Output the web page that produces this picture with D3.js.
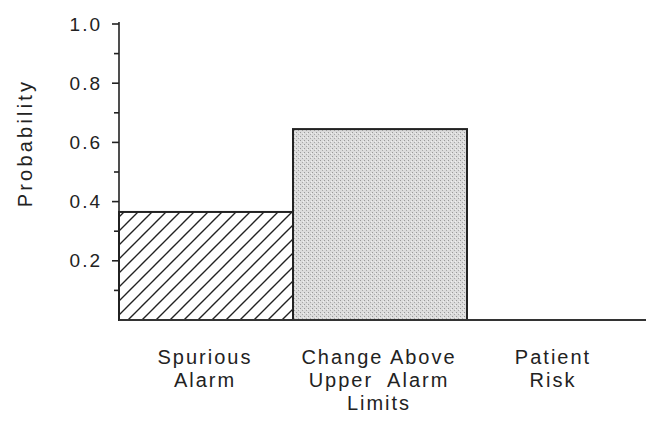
<!DOCTYPE html>
<html>
  <head>
    <meta charset="utf-8">
    <script src="https://d3js.org/d3.v7.min.js"></script>
    <style>
      body { margin: 0px; background: #fff; }
      text {
        font-family: "Liberation Sans", Arial, sans-serif;
        fill: #222;
      }
      .tick-label { font-size: 19px; letter-spacing: 2px; }
      .cat-label { font-size: 20px; letter-spacing: 2px; }
      .axis-label { font-size: 20px; letter-spacing: 3.2px; }
    </style>
  </head>
  <body>
    <svg width="646" height="425"></svg>
    <script>
      const categories = ['Spurious Alarm', 'Change Above Upper Alarm Limits', 'Patient Risk'];
      const catLines = [['Spurious', 'Alarm'], ['Change Above', 'Upper  Alarm', 'Limits'], ['Patient', 'Risk']];
      const values = [0.365, 0.645, 0.0];
      const majorTicks = [0.2, 0.4, 0.6, 0.8, 1.0];
      const tickLabels = ['0.2', '0.4', '0.6', '0.8', '1.0'];
      const minorTicks = [0.1, 0.3, 0.5, 0.7, 0.9];

      const svg = d3.select('svg');
      const plotLeft = 119, plotRight = 641, plotTop = 24, plotBottom = 320;

      const x = d3.scaleBand().domain(categories).range([plotLeft, plotRight]).padding(0);
      const y = d3.scaleLinear().domain([0, 1]).range([plotBottom, plotTop]);

      const defs = svg.append('defs');
      const hatch = defs.append('pattern')
          .attr('id', 'hatch')
          .attr('patternUnits', 'userSpaceOnUse')
          .attr('width', 14).attr('height', 14);
      hatch.append('rect').attr('width', 14).attr('height', 14).attr('fill', '#fff');
      hatch.append('path')
          .attr('d', 'M-1,15 L15,-1 M-8,8 L8,-8 M6,22 L22,6')
          .attr('stroke', '#222').attr('stroke-width', 1.4);

      const dots = defs.append('pattern')
          .attr('id', 'dots')
          .attr('patternUnits', 'userSpaceOnUse')
          .attr('width', 4).attr('height', 4);
      dots.append('rect').attr('width', 4).attr('height', 4).attr('fill', '#dcdcdc');
      dots.append('rect').attr('x', 0).attr('y', 0).attr('width', 1).attr('height', 1).attr('fill', '#999');
      dots.append('rect').attr('x', 2).attr('y', 2).attr('width', 1).attr('height', 1).attr('fill', '#a8a8a8');
      dots.append('rect').attr('x', 3).attr('y', 1).attr('width', 1).attr('height', 1).attr('fill', '#f0f0f0');

      const fills = ['url(#hatch)', 'url(#dots)', '#fff'];

      svg.selectAll('rect.bar').data(categories)
        .enter().append('rect')
          .attr('class', 'bar')
          .attr('x', d => x(d))
          .attr('y', (d, i) => y(values[i]))
          .attr('width', x.bandwidth())
          .attr('height', (d, i) => y(0) - y(values[i]))
          .attr('fill', (d, i) => fills[i])
          .attr('stroke', '#222')
          .attr('stroke-width', 2);

      // baseline
      svg.append('line')
          .attr('x1', plotLeft).attr('x2', 646)
          .attr('y1', y(0)).attr('y2', y(0))
          .attr('stroke', '#333').attr('stroke-width', 2);

      // y axis
      const yAxisG = svg.append('g').attr('transform', `translate(${plotLeft},0)`);
      yAxisG.append('line')
          .attr('y1', y(1) - 2).attr('y2', y(0))
          .attr('stroke', '#222').attr('stroke-width', 1.6);
      yAxisG.selectAll('line.major').data(majorTicks)
        .enter().append('line')
          .attr('class', 'major')
          .attr('x1', -7).attr('x2', 0)
          .attr('y1', d => y(d)).attr('y2', d => y(d))
          .attr('stroke', '#222').attr('stroke-width', 1.6);
      yAxisG.selectAll('line.minor').data(minorTicks)
        .enter().append('line')
          .attr('class', 'minor')
          .attr('x1', -5).attr('x2', 0)
          .attr('y1', d => y(d)).attr('y2', d => y(d))
          .attr('stroke', '#222').attr('stroke-width', 1.6);
      yAxisG.selectAll('text').data(majorTicks)
        .enter().append('text')
          .attr('class', 'tick-label')
          .attr('x', -17)
          .attr('y', d => y(d))
          .attr('dy', '0.35em')
          .attr('text-anchor', 'end')
          .text((d, i) => tickLabels[i]);

      svg.append('text')
          .attr('class', 'axis-label')
          .attr('transform', `translate(32,${143}) rotate(-90)`)
          .attr('text-anchor', 'middle')
          .text('Probability');

      // category labels
      const catG = svg.selectAll('text.cat').data(categories)
        .enter().append('text')
          .attr('class', 'cat-label')
          .attr('text-anchor', 'middle')
          .attr('x', d => x(d) + x.bandwidth() / 2 - 1)
          .attr('y', 364);
      catG.selectAll('tspan').data((d, i) => catLines[i])
        .enter().append('tspan')
          .attr('x', function() { return d3.select(this.parentNode).attr('x'); })
          .attr('dy', (d, i) => i === 0 ? 0 : 23)
          .style('white-space', 'pre')
          .text(d => d);
    </script>
  </body>
</html>
